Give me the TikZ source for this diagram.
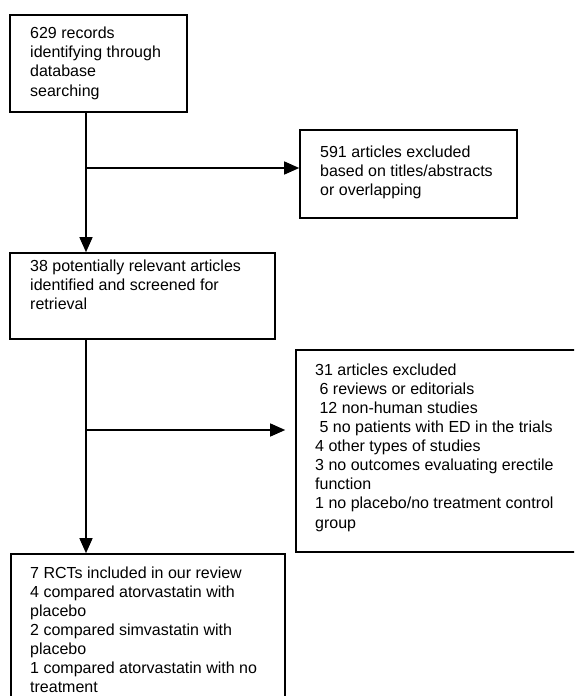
\documentclass[tikz,border=0pt]{standalone}
\usepackage{fontspec}
\setmainfont{Liberation Sans}
\usetikzlibrary{arrows.meta}
\newcommand{\fs}{\rule{0pt}{12pt}}
\begin{document}
\begin{tikzpicture}[x=1pt,y=-1pt,
  box/.style={draw, line width=1.6pt, rectangle, inner sep=0pt},
  txt/.style={anchor=north west, inner sep=0pt, align=left, font=\fontsize{16}{19.1}\selectfont},
  conn/.style={line width=1.3pt},
  arr/.style={conn, -{Triangle[length=15pt,width=13pt]}}]
\clip (0,0) rectangle (574,696);
\fill[white] (0,0) rectangle (574,696);
% boxes
\node[box, minimum width=177pt, minimum height=97pt] (b1) at (98.5,63.5) {};
\node[box, minimum width=217pt, minimum height=88pt] (b2) at (408.5,174) {};
\node[box, minimum width=265pt, minimum height=86pt] (b3) at (142.5,296) {};
\node[box, minimum width=284pt, minimum height=202pt] (b4) at (438,451) {};
\node[box, minimum width=274pt, minimum height=152pt] (b5) at (148,630) {};
% texts
\node[txt] (t1) at (30,26.5) {\fs 629 records\\identifying through\\database\\searching};
\node[txt] (t2) at (320,145) {\fs 591 articles excluded\\based on titles/abstracts\\or overlapping};
\node[txt] (t3) at (30,259) {\fs 38 potentially relevant articles\\identified and screened for\\retrieval};
\node[txt] (t4) at (315,363) {\fs 31 articles excluded\\\hspace*{4.4pt}6 reviews or editorials\\\hspace*{4.4pt}12 non-human studies\\\hspace*{4.4pt}5 no patients with ED in the trials\\4 other types of studies\\3 no outcomes evaluating erectile\\function\\1 no placebo/no treatment control\\group};
\node[txt] (t5) at (30,566) {\fs 7 RCTs included in our review\\4 compared atorvastatin with\\placebo\\2 compared simvastatin with\\placebo\\1 compared atorvastatin with no\\treatment};
% connectors
\coordinate (c1) at (86,168);
\coordinate (c2) at (86,430);
\draw[arr] (c1 |- b1.south) -- (c1 |- b3.north);
\draw[arr] (c1) -- (c1 -| b2.west);
\draw[arr] (c2 |- b3.south) -- (c2 |- b5.north);
\draw[arr, shorten >=10pt] (c2) -- (c2 -| b4.west);
\end{tikzpicture}
\end{document}
